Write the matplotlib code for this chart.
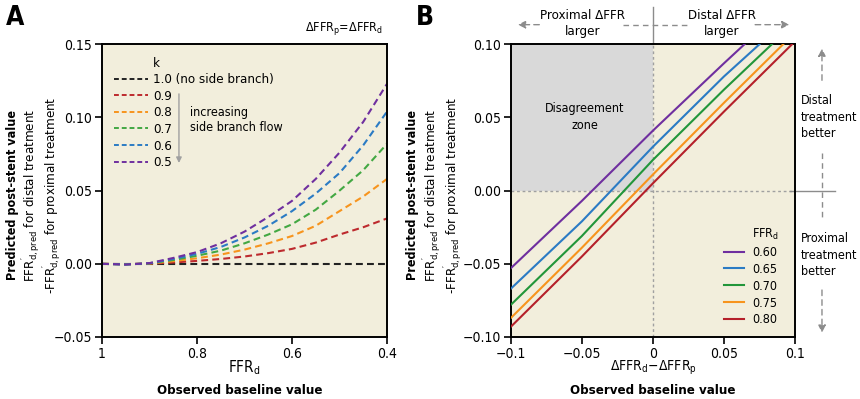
import numpy as np
import matplotlib
matplotlib.use('Agg')
import matplotlib.pyplot as plt
from matplotlib.lines import Line2D

plt.rcParams['font.family'] = ['DejaVu Sans']
plt.rcParams['font.stretch'] = 'condensed'
plt.rcParams['mathtext.fontset'] = 'custom'
plt.rcParams['mathtext.rm'] = 'DejaVu Sans:stretch=condensed'
plt.rcParams['mathtext.bf'] = 'DejaVu Sans:bold:stretch=condensed'
plt.rcParams['axes.unicode_minus'] = True

# ---- panel A data: predicted difference vs baseline FFR_d, one curve per k
ffr_d = [1.0, 0.95, 0.9, 0.85, 0.8, 0.75, 0.7, 0.65, 0.6, 0.55, 0.5, 0.45, 0.4]
k_labels = ['1.0 (no side branch)', '0.9', '0.8', '0.7', '0.6', '0.5']
k_colors = ['#222222', '#bd2a2e', '#f7941d', '#43a843', '#2b7bc4', '#6f2f9f']
k10 = [0, 0, 0, 0, 0, 0, 0, 0, 0, 0, 0, 0, 0]
k09 = [0, -0.0002, 0.0001, 0.0009, 0.002, 0.0033, 0.005, 0.0073, 0.0102, 0.0145, 0.020, 0.0250, 0.031]
k08 = [0, -0.0003, 0.0002, 0.0018, 0.0038, 0.0063, 0.0097, 0.014, 0.019, 0.026, 0.036, 0.046, 0.058]
k07 = [0, -0.0004, 0.0003, 0.0026, 0.0055, 0.009, 0.014, 0.020, 0.027, 0.037, 0.050, 0.064, 0.082]
k06 = [0, -0.0005, 0.0004, 0.0033, 0.0068, 0.0115, 0.018, 0.026, 0.036, 0.048, 0.062, 0.081, 0.104]
k05 = [0, -0.0005, 0.0005, 0.004, 0.008, 0.014, 0.022, 0.032, 0.043, 0.058, 0.076, 0.097, 0.123]
k_series = [k10, k09, k08, k07, k06, k05]

# ---- panel B data: predicted difference vs dFFR_d - dFFR_p, one line per FFR_d
dffr = [-0.1, -0.05, 0.0, 0.05, 0.1]
b_labels = ['0.60', '0.65', '0.70', '0.75', '0.80']
b_colors = ['#6f2f9f', '#2b7bc4', '#22963a', '#f7941d', '#b5202a']
f060 = [-0.053, -0.007, 0.041, 0.087, 0.132]
f065 = [-0.067, -0.021, 0.030, 0.078, 0.122]
f070 = [-0.078, -0.031, 0.021, 0.069, 0.115]
f075 = [-0.087, -0.039, 0.011, 0.060, 0.108]
f080 = [-0.093, -0.045, 0.005, 0.054, 0.102]
b_series = [f060, f065, f070, f075, f080]

bg = '#f2eedc'
grey = '#8c8c8c'

fig = plt.figure(figsize=(8.6, 3.99), dpi=100)
axA = fig.add_axes([0.1186, 0.1554, 0.3314, 0.7336])
axB = fig.add_axes([0.594, 0.1554, 0.3304, 0.7336])

for ax in (axA, axB):
    ax.set_facecolor(bg)
    for s in ax.spines.values():
        s.set_linewidth(1.4)
    ax.tick_params(direction='out', length=5, width=1.2, labelsize=10, pad=2)

# ---------------- panel A
for y, c, lab in zip(k_series, k_colors, k_labels):
    axA.plot(ffr_d, y, color=c, lw=1.5, ls=(0, (3.3, 2)), label=lab)
axA.set_xlim(1, 0.4)
axA.set_ylim(-0.05, 0.15)
axA.set_xticks([1, 0.8, 0.6, 0.4])
axA.set_xticklabels(['1', '0.8', '0.6', '0.4'])
axA.set_yticks([-0.05, 0, 0.05, 0.1, 0.15])
axA.set_yticklabels(['\u22120.05', '0.00', '0.05', '0.10', '0.15'])

hA = [Line2D([], [], color='none')] + [Line2D([], [], color=c, lw=1.4, ls=(0, (2.5, 1.5))) for c in k_colors]
axA.legend(hA, ['k'] + k_labels, loc='upper left', bbox_to_anchor=(0.042, 0.958),
           frameon=False, fontsize=9.5, handlelength=2.6, handletextpad=0.38,
           labelspacing=0.275, borderaxespad=0, borderpad=0)
axA.annotate('', xy=(0.27, 0.585), xytext=(0.27, 0.84), xycoords='axes fraction',
             arrowprops=dict(arrowstyle='-|>', color='#a0a0a0', lw=1, mutation_scale=8))
axA.text(0.308, 0.742, 'increasing\nside branch flow', transform=axA.transAxes,
         fontsize=9, va='center', ha='left', linespacing=1.25)
axA.text(0.985, 1.053, '\u0394FFR$_\\mathrm{p}$=\u0394FFR$_\\mathrm{d}$', transform=axA.transAxes,
         fontsize=9, ha='right', va='center')

# ---------------- panel B
axB.fill_between([-0.1, 0], 0, 0.1, color='#d9d9d9', lw=0, zorder=0)
axB.axhline(0, color='#a0a0a0', ls=(0, (2, 2)), lw=1, zorder=1)
axB.axvline(0, color='#a0a0a0', ls=(0, (2, 2)), lw=1, zorder=1)
for y, c, lab in zip(b_series, b_colors, b_labels):
    axB.plot(dffr, y, color=c, lw=1.5, label=lab, zorder=3)
axB.set_xlim(-0.1, 0.1)
axB.set_ylim(-0.1, 0.1)
axB.set_xticks([-0.1, -0.05, 0, 0.05, 0.1])
axB.set_xticklabels(['\u22120.1', '\u22120.05', '0', '0.05', '0.1'])
axB.set_yticks([-0.1, -0.05, 0, 0.05, 0.1])
axB.set_yticklabels(['\u22120.10', '\u22120.05', '0.00', '0.05', '0.10'])
axB.text(-0.048, 0.05, 'Disagreement\nzone', ha='center', va='center', fontsize=9, linespacing=1.4)

hB = [Line2D([], [], color='none')] + [Line2D([], [], color=c, lw=1.5) for c in b_colors]
axB.legend(hB, ['FFR$_\\mathrm{d}$'] + b_labels, loc='upper left', bbox_to_anchor=(0.75, 0.376),
           frameon=False, fontsize=9, handlelength=1.6, handletextpad=0.64,
           labelspacing=0.31, borderaxespad=0, borderpad=0)

# annotations above panel B (dashed arrows split around the texts)
xt = axB.get_xaxis_transform()
ytop = 1.067
dash = dict(color=grey, lw=1, ls=(0, (4, 3)))
axB.annotate('', xy=(-0.097, ytop), xytext=(-0.078, ytop), xycoords=xt,
             arrowprops=dict(arrowstyle='-|>', mutation_scale=11, **dash))
axB.annotate('', xy=(0.098, ytop), xytext=(0.070, ytop), xycoords=xt,
             arrowprops=dict(arrowstyle='-|>', mutation_scale=11, **dash))
axB.plot([-0.021, 0.026], [ytop, ytop], transform=xt, clip_on=False, **dash)
axB.plot([0, 0], [1.0, 1.129], transform=xt, color=grey, lw=1, clip_on=False)
axB.text(-0.0493, 1.07, 'Proximal \u0394FFR\nlarger', transform=xt, ha='center', va='center',
         fontsize=9.5, linespacing=1.3)
axB.text(0.0486, 1.07, 'Distal \u0394FFR\nlarger', transform=xt, ha='center', va='center',
         fontsize=9.5, linespacing=1.3)

# annotations right of panel B
yt = axB.get_yaxis_transform()
xr = 1.095
axB.annotate('', xy=(xr, 0.099), xytext=(xr, 0.0735), xycoords=yt,
             arrowprops=dict(arrowstyle='-|>', mutation_scale=11, **dash))
axB.plot([xr, xr], [0.026, -0.019], transform=yt, clip_on=False, **dash)
axB.annotate('', xy=(xr, -0.099), xytext=(xr, -0.066), xycoords=yt,
             arrowprops=dict(arrowstyle='-|>', mutation_scale=11, **dash))
axB.plot([0.982, 1.141], [0, 0], transform=yt, color=grey, lw=1, clip_on=False)
axB.text(1.02, 0.0503, 'Distal\ntreatment\nbetter', transform=yt,
         ha='left', va='center', fontsize=9, linespacing=1.35)
axB.text(1.02, -0.0441, 'Proximal\ntreatment\nbetter', transform=yt,
         ha='left', va='center', fontsize=9, linespacing=1.35)

# ---------------- axis labels
ylab2 = '$\\mathrm{FFR}^{\\prime}_{\\mathrm{d,pred}}$ for distal treatment'
ylab3 = '-$\\mathrm{FFR}^{\\prime}_{\\mathrm{d,pred}}$ for proximal treatment'
ymid = 1 - 195 / 399
for x0, x1, x2 in [(16, 35, 56), (416, 436, 457)]:
    fig.text(x0 / 860, ymid, 'Predicted post-stent value', rotation=90, rotation_mode='anchor',
             ha='center', va='baseline', fontsize=9, fontweight='bold')
    fig.text(x1 / 860, ymid, ylab2, rotation=90, rotation_mode='anchor',
             ha='center', va='baseline', fontsize=9.5)
    fig.text(x2 / 860, ymid, ylab3, rotation=90, rotation_mode='anchor',
             ha='center', va='baseline', fontsize=9.5)

fig.text(244 / 860, 1 - 372 / 399, 'FFR$_\\mathrm{d}$', ha='center', va='baseline', fontsize=11)
fig.text(653 / 860, 1 - 371 / 399, '\u0394FFR$_\\mathrm{d}$\u2212\u0394FFR$_\\mathrm{p}$',
         ha='center', va='baseline', fontsize=10)
for xc in (240, 653):
    fig.text(xc / 860, 1 - 390 / 399, 'Observed baseline value', ha='center', va='center',
             fontsize=9.5, fontweight='bold')

fig.text(15 / 860, 1 - 18 / 399, 'A', ha='center', va='center', fontsize=19, fontweight='bold')
fig.text(425 / 860, 1 - 18 / 399, 'B', ha='center', va='center', fontsize=19, fontweight='bold')

fig.savefig('out.png', dpi=100, facecolor='white')
